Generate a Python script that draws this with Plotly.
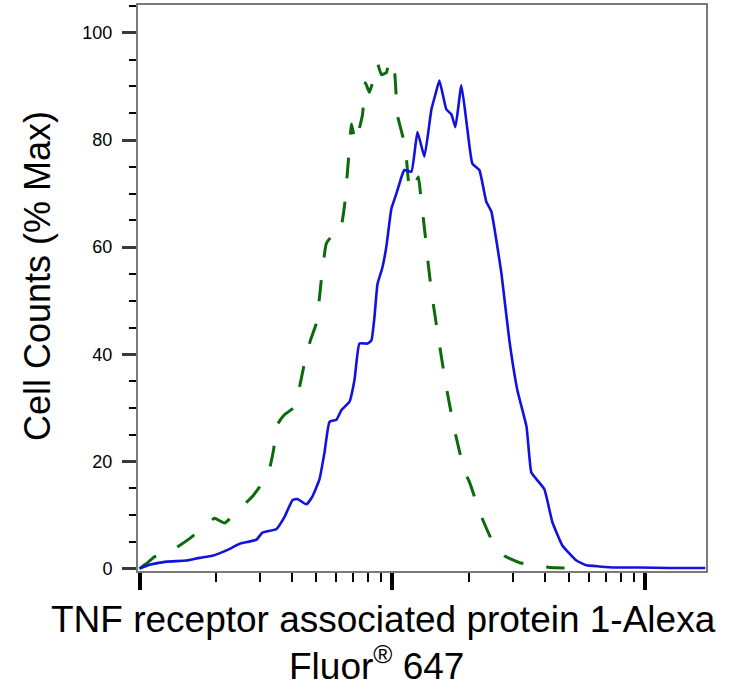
import plotly.graph_objects as go

# Isotype control (green dashed) - fluorescence intensity vs % max
control_x = [1.0, 1.076, 1.146, 1.375, 1.577, 1.84, 1.98, 2.17, 2.48, 2.80, 3.03, 3.26, 3.39, 3.51,
             3.74, 4.10, 4.49, 4.74, 5.01, 5.24, 5.48, 5.79, 6.17, 6.46, 6.70, 6.89, 7.14, 7.61,
             7.82, 8.11, 8.49, 8.73, 9.05, 9.47, 9.73, 10.18, 10.47, 11.05, 11.36, 11.57, 11.89,
             12.67, 13.02, 13.26, 13.63, 13.88, 14.4, 15.3, 16.3, 17.6, 19.3, 20.2, 22.1, 24.9,
             27.7, 31.8, 36.4, 41.8, 47.9]
control_y = [0.0, 1.1, 2.2, 3.7, 5.6, 8.1, 9.4, 8.5, 11.1, 13.5, 15.7, 18.5, 22.2, 26.9,
             28.7, 30.2, 38.3, 42.6, 45.9, 54.1, 60.7, 62.2, 62.4, 67.6, 76.3, 83.0, 79.6, 84.6,
             90.7, 88.9, 92.0, 94.3, 92.2, 92.6, 95.0, 93.0, 84.6, 80.2, 76.5, 72.4, 70.4,
             73.1, 68.1, 65.2, 60.2, 56.5, 50.4, 42.2, 34.1, 25.9, 18.1, 16.1, 10.6, 5.0,
             2.4, 1.1, 0.6, 0.2, 0.1]

# Stained sample (blue solid)
sample_x = [1.0, 1.095, 1.279, 1.534, 1.727, 1.943, 2.23, 2.48, 2.90, 3.06, 3.48, 3.74, 4.03, 4.21,
            4.57, 4.83, 5.15, 5.39, 5.64, 6.01, 6.29, 6.76, 7.08, 7.41, 7.97, 8.26, 8.49, 8.73,
            9.12, 9.47, 9.91, 10.37, 10.86, 11.15, 11.89, 12.56, 13.38, 14.26, 14.79, 15.34,
            16.34, 17.10, 17.74, 18.74, 19.79, 20.71, 22.07, 23.5, 24.6, 25.8, 27.0, 29.0, 31.2,
            33.9, 35.4, 37.1, 39.9, 42.9, 47.0, 53.4, 58.5, 65.8, 75.4, 94.6, 124.5, 172.6]
sample_y = [0.0, 0.7, 1.3, 1.5, 2.0, 2.4, 3.5, 4.6, 5.4, 6.7, 7.4, 9.6, 12.8, 13.0,
            12.0, 13.5, 16.7, 21.7, 27.4, 27.8, 29.6, 31.1, 35.2, 42.0, 42.0, 42.6, 46.9, 53.1,
            56.1, 60.2, 67.2, 70.0, 73.1, 74.4, 74.1, 81.5, 76.9, 85.7, 88.5, 91.1,
            85.7, 84.8, 82.4, 90.2, 82.0, 75.6, 74.4, 68.5, 66.7, 61.1, 55.0, 42.6, 33.3,
            26.5, 18.0, 16.7, 14.8, 8.7, 4.3, 1.5, 0.6, 0.4, 0.2, 0.2, 0.1, 0.1]

y_title = "Cell Counts (% Max)"
x_title_line1 = "TNF receptor associated protein 1-Alexa"
x_title_line2 = "Fluor<sup>®</sup> 647"

FONT = "Liberation Sans, Arial, sans-serif"

fig = go.Figure()
fig.add_trace(go.Scatter(x=control_x, y=control_y, mode="lines",
                         line=dict(color="#0b6b0b", width=3, dash="21px,23px",
                                   shape="spline", smoothing=0.4),
                         hoverinfo="skip", showlegend=False))
fig.add_trace(go.Scatter(x=sample_x, y=sample_y, mode="lines",
                         line=dict(color="#1212e0", width=2.6,
                                   shape="spline", smoothing=0.4),
                         hoverinfo="skip", showlegend=False))

fig.update_layout(
    width=756, height=696,
    margin=dict(l=138, r=50, t=3, b=125),
    paper_bgcolor="white", plot_bgcolor="white",
    font=dict(family=FONT, color="black"),
    showlegend=False,
    xaxis=dict(
        type="log", range=[-0.006, 2.24],
        showgrid=False, zeroline=False,
        showline=True, linecolor="#7a7a7a", linewidth=2, mirror=True,
        ticks="outside", tickmode="linear", tick0=0, dtick=1,
        ticklen=17, tickwidth=4, tickcolor="black",
        showticklabels=False,
        minor=dict(ticks="outside", ticklen=9, tickwidth=2, tickcolor="black",
                   dtick="D1", showgrid=False),
    ),
    yaxis=dict(
        range=[-0.45, 105.2],
        showgrid=False, zeroline=False,
        showline=True, linecolor="#7a7a7a", linewidth=2, mirror=True,
        ticks="outside", tickmode="linear", tick0=0, dtick=20,
        ticklen=14, tickwidth=3, tickcolor="#3a3a3a",
        ticklabelstandoff=6,
        tickfont=dict(family=FONT, size=18, color="black"),
        minor=dict(ticks="outside", ticklen=7, tickwidth=2, tickcolor="black",
                   dtick=5, showgrid=False),
    ),
    annotations=[
        dict(text=y_title, xref="paper", yref="paper",
             x=(37 - 138) / 568, y=(571 - 275) / 568,
             xanchor="center", yanchor="middle", textangle=-90, showarrow=False,
             font=dict(family=FONT, size=36, color="black")),
        dict(text=x_title_line1, xref="paper", yref="paper",
             x=(383 - 138) / 568, y=(571 - 620) / 568,
             xanchor="center", yanchor="middle", showarrow=False,
             font=dict(family=FONT, size=37, color="black")),
        dict(text=x_title_line2, xref="paper", yref="paper",
             x=(376 - 138) / 568, y=(571 - 664) / 568,
             xanchor="center", yanchor="middle", showarrow=False,
             font=dict(family=FONT, size=37, color="black")),
    ],
)

fig.write_html("out.html",
               config={"displayModeBar": False, "staticPlot": True},
               post_script="document.body.style.margin='0';document.body.style.overflow='hidden';")
